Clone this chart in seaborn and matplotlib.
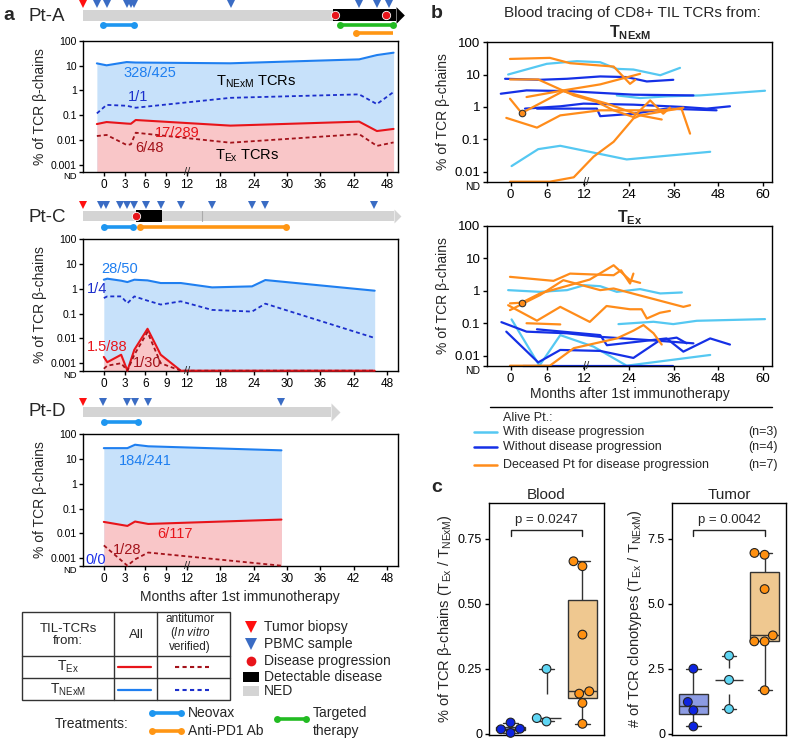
import numpy as np
import pandas as pd
import matplotlib
matplotlib.use("Agg")
import matplotlib.pyplot as plt
from matplotlib.patches import Rectangle
from matplotlib.ticker import NullLocator
import seaborn as sns

# ======================= DATA =======================
ND_A = 10 ** -3.3          # "ND" level, panel a
ND_B = 10 ** -2.31         # "ND" level, panel b

# ---- Pt-A ----
ptA_months = [-1.0, 0.4, 3.3, 3.9, 4.6, 19.8, 43.0, 46.2, 49.2]
ptA_nexm_all = [12.2, 10.2, 13.8, 13.5, 13.2, 12.3, 17.7, 26.4, 32.9]
ptA_nexm_anti = [0.118, 0.26, 0.24, 0.22, 0.20, 0.50, 0.69, 0.28, 0.86]
ptA_ex_all = [0.044, 0.053, 0.046, 0.045, 0.064, 0.038, 0.055, 0.023, 0.028]
ptA_ex_anti = [0.0145, 0.016, 0.0063, 0.0067, 0.0197, 0.0078, 0.0173, 0.0058, 0.008]
ptA_pbmc = [-1.05, 0.48, 3.4, 3.9, 4.3, 20.0, 42.9, 46.2, 48.4]
ptA_biopsy = [-3.07]
ptA_progression = [38.6, 47.9]
ptA_ned = (-3.0, 38.25)
ptA_disease = (38.25, 49.6)
ptA_neovax = (-0.1, 4.35)
ptA_targeted = (39.6, 49.1)
ptA_antipd1 = (42.5, 49.1)

# ---- Pt-C ----
ptC_months = [0, 0.5, 2.5, 3.4, 4.4, 6.3, 8.2, 11.1, 16.5, 23.7, 26.1, 45.8]
ptC_nexm_all = [2.3, 2.53, 2.1, 1.85, 2.3, 2.16, 1.69, 1.69, 1.13, 1.24, 2.23, 0.83]
ptC_nexm_anti = [0.42, 0.49, 0.49, 0.26, 0.49, 0.33, 0.23, 0.31, 0.14, 0.12, 0.25, 0.0104]
ptC_ex_all = [0.0018, 0.0011, 0.0022, ND_A, 0.0035, 0.0244, 0.0022, ND_A, ND_A, ND_A, ND_A, ND_A]
ptC_ex_anti = [0.0006, 0.0008, 0.001, ND_A, 0.0022, 0.018, 0.001, ND_A, ND_A, ND_A, ND_A, ND_A]
ptC_pbmc = [-0.34, 0.38, 2.3, 3.27, 4.37, 6.15, 8.2, 11.1, 16.5, 23.7, 26.1, 45.6]
ptC_biopsy = [-3.07]
ptC_progression = [4.7]
ptC_ned = (-3.0, 49.2)
ptC_disease = (4.7, 8.4)
ptC_neovax = (0.0, 4.2)
ptC_antipd1 = (5.15, 29.9)

# ---- Pt-D ----
ptD_months = [0, 3.4, 4.5, 6.4, 29]
ptD_nexm_all = [27, 27, 37, 32, 22]
ptD_ex_all = [0.029, 0.020, 0.030, 0.024, 0.036]
ptD_ex_anti = [0.0033, ND_A, 0.0009, 0.0017, ND_A]
ptD_pbmc = [-0.1, 3.4, 4.47, 6.4, 29]
ptD_biopsy = [-3.0]
ptD_ned = (-3.0, 38.0)
ptD_neovax = (0.0, 4.95)

A_TICKS = [0, 3, 6, 9, 12, 18, 24, 30, 36, 42, 48]
A_YTICKS = [ND_A, 0.001, 0.01, 0.1, 1, 10, 100]
A_YLABELS = ["ND", "0.001", "0.01", "0.1", "1", "10", "100"]

# ---- panel b (group, months, % of TCR beta chains) ----
b_nexm_lines = [
    ("with", [-0.4, 5.9, 10.8, 16.3, 20.75, 25.2, 32.4, 37.7], [10.1, 21.6, 26.1, 24.2, 15.1, 14.4, 9.6, 16.2]),
    ("with", [20.75, 27.0, 34.1, 43.1, 60.5], [2.28, 1.89, 2.13, 2.28, 3.18]),
    ("with", [0.16, 4.5, 8.1, 23.4, 45.8], [0.0149, 0.0497, 0.0631, 0.0239, 0.0412]),
    ("without", [-0.9, 4.8, 9.2, 16.3, 23.4, 28.8, 35.9], [7.45, 6.93, 7.45, 8.8, 8.4, 6.16, 6.93]),
    ("without", [-1.6, 2.6, 9.2, 25.2, 41.3], [2.57, 3.26, 3.1, 2.4, 2.28]),
    ("without", [2.35, 8.1, 11.9, 25.2, 38.6, 44.9, 51.1], [0.89, 1.05, 1.27, 1.18, 1.0, 0.89, 1.05]),
    ("without", [4.3, 15.4, 16.3, 25.2, 34.1, 47.5], [0.89, 0.89, 0.52, 0.62, 0.89, 0.79]),
    ("deceased", [-0.1, 6.4, 9.7, 19.9, 24.3, 25.7], [30.6, 33.0, 22.6, 17.8, 5.2, 6.9]),
    ("deceased", [-0.1, 4.5, 10.3, 15.4, 19.9, 25.2, 29.7, 33.2, 35.0], [7.1, 7.1, 2.28, 1.43, 0.79, 0.49, 1.6, 0.62, 0.95]),
    ("deceased", [2.6, 8.6, 16.3, 27.0], [2.03, 3.26, 5.0, 10.6]),
    ("deceased", [-0.1, 1.8, 8.6, 18.1, 27.0, 32.8], [1.8, 0.65, 3.1, 1.27, 0.55, 0.41]),
    ("deceased", [-0.7, 4.3, 8.1, 16.3, 32.3, 38.1, 40.4], [0.46, 0.23, 0.55, 0.79, 0.79, 0.89, 0.15]),
    ("deceased", [-0.1, 6.4, 10.3, 14.5, 19.9, 25.2, 27.0, 38.6], [ND_B, ND_B, 0.0067, 0.029, 0.084, 0.44, 0.55, 0.95]),
]
b_nexm_dot = (1.8, 0.65)

b_ex_lines = [
    ("with", [-0.4, 4.8, 9.2, 12, 16.3, 20.75, 27, 32.4, 38.2], [1.05, 0.93, 1.05, 1.49, 1.39, 0.93, 1.13, 0.83, 0.89]),
    ("with", [21.2, 30.6, 35.9, 42.2, 60.5], [0.094, 0.111, 0.094, 0.119, 0.134]),
    ("with", [0.16, 4.7, 8.1, 14.5, 23.4, 45.8], [0.131, ND_B, 0.043, 0.019, ND_B, 0.0105]),
    ("without", [-1.5, 2.6, 9.2, 16.3, 29.7, 41.3], [0.108, 0.055, 0.049, 0.038, 0.030, 0.024]),
    ("without", [-0.7, 4.5, 8.1, 16.3, 25.2, 32.3, 36.8, 39.5], [0.055, 0.0062, 0.015, 0.014, 0.0085, 0.030, 0.036, 0.024]),
    ("without", [4.3, 16.3, 18.1, 34.1, 38.6, 45.8, 51.1], [0.065, 0.043, 0.021, 0.034, 0.0133, 0.034, 0.022]),
    ("without", [2.1, 35.9], [ND_B, ND_B]),
    ("deceased", [-0.1, 7.0, 9.7, 19.9, 21.9, 24.3, 25.2], [2.7, 2.03, 3.4, 3.03, 4.3, 1.68, 3.4]),
    ("deceased", [-0.1, 4.8, 8.6, 16.3, 19.9, 38.6, 40.4], [0.254, 0.74, 2.13, 1.05, 1.18, 0.32, 0.36]),
    ("deceased", [-0.1, 1.8, 4.8, 13.5, 19.9, 24.3, 27.0], [0.41, 0.43, 0.83, 2.23, 6.16, 2.13, 1.76]),
    ("deceased", [-0.4, 4.3, 8.1, 13.5, 18.0, 24.3, 27.4, 28.8, 32.3, 35.0], [0.36, 0.12, 0.32, 0.11, 0.34, 0.27, 0.27, 0.14, 0.21, 0.24]),
    ("deceased", [2.6, 8.1], [0.10, 0.092]),
    ("deceased", [-0.1, 6.4, 10.3, 12.7, 20.75, 25.2, 27.9, 30.6, 32.8], [ND_B, ND_B, 0.017, 0.021, 0.034, 0.059, 0.088, 0.049, 0.022]),
]
b_ex_dot = (1.8, 0.43)

B_TICKS = [0, 6, 12, 24, 36, 48, 60]
B_YTICKS = [ND_B, 0.01, 0.1, 1, 10, 100]
B_YLABELS = ["ND", "0.01", "0.1", "1", "10", "100"]

# ---- panel c ----
GROUPS = ["without", "with", "deceased"]
blood_without = [0.043, 0.003, 0.017, 0.019]
blood_with = [0.047, 0.060, 0.249]
blood_deceased = [0.663, 0.644, 0.381, 0.154, 0.163, 0.118, 0.038]
tumor_without = [2.5, 1.22, 0.9, 0.28]
tumor_with = [3.0, 2.07, 0.95]
tumor_deceased = [6.88, 6.95, 5.56, 3.78, 3.55, 3.55, 1.67]
p_blood = "p = 0.0247"
p_tumor = "p = 0.0042"

# ======================= STYLE =======================
sns.set_theme(style="ticks")
plt.rcParams["font.family"] = ["Liberation Sans", "DejaVu Sans"]
plt.rcParams["mathtext.fontset"] = "custom"
plt.rcParams["mathtext.rm"] = "Liberation Sans"
plt.rcParams["mathtext.it"] = "Liberation Sans:italic"
plt.rcParams["mathtext.bf"] = "Liberation Sans:bold"
plt.rcParams["axes.linewidth"] = 1.0
plt.rcParams["axes.edgecolor"] = "black"
plt.rcParams["xtick.color"] = "black"
plt.rcParams["ytick.color"] = "black"

BLUE = "#1f7ff0"
DBLUE = "#1c2fcc"
RED = "#e8141a"
DRED = "#a3121a"
FILL_BLUE = "#c7e1fa"
FILL_RED = "#f9c6c8"
GRAY = "#d4d4d4"
NEO = "#1e96f0"
ORANGE = "#ff9614"
GREEN = "#22bb22"
TRI_RED = "#ff1010"
TRI_BLUE = "#3a6cc4"

LB = "#55c8f2"
DB = "#1530e6"
OR = "#ff8c1a"
B_PAL = {"with": LB, "without": DB, "deceased": OR}
BOX_FACE = {"without": "#7d92f2", "with": "#a8e6f8", "deceased": "#ffcb80"}
PT_COL = {"without": "#0d24e0", "with": "#5fd6f4", "deceased": "#ff9010"}

W, H = 790, 744
fig = plt.figure(figsize=(W / 100, H / 100), dpi=100)


def px_axes(l, t, r, b):
    return fig.add_axes([l / W, 1 - b / H, (r - l) / W, (b - t) / H])


def fwd_a(m):
    m = np.asarray(m, dtype=float)
    return np.where(m <= 12, m, 12 + (m - 12) * 0.8)


def inv_a(t):
    t = np.asarray(t, dtype=float)
    return np.where(t <= 12, t, 12 + (t - 12) / 0.8)


def fwd_b(m):
    m = np.asarray(m, dtype=float)
    return np.where(m <= 12, m, 12 + (m - 12) * 0.608)


def inv_b(t):
    t = np.asarray(t, dtype=float)
    return np.where(t <= 12, t, 12 + (t - 12) / 0.608)


def shrink_nd(ax, size):
    lab = ax.get_yticklabels()[0]
    lab.set_fontsize(size)
    lab.set_verticalalignment("top")


# ======================= PANEL a =======================
def patient_plot(ax, months, nexm_all, nexm_anti, ex_all, ex_anti):
    ax.set_xscale("function", functions=(fwd_a, inv_a))
    ax.set_yscale("log")
    ax.fill_between(months, ND_A, nexm_all, color=FILL_BLUE, lw=0, zorder=1)
    ax.fill_between(months, ND_A, ex_all, color=FILL_RED, lw=0, zorder=1.1)
    specs = [(nexm_all, BLUE, "-", 1.5), (nexm_anti, DBLUE, (0, (2.2, 1.6)), 1.3),
             (ex_all, RED, "-", 1.5), (ex_anti, DRED, (0, (2.2, 1.6)), 1.3)]
    for vals, col, ls, lw in specs:
        if vals is None:
            continue
        sns.lineplot(x=months, y=vals, ax=ax, color=col, linestyle=ls, lw=lw,
                     errorbar=None, clip_on=False, zorder=3)
    ax.set_xlim(-3, 50)
    ax.set_ylim(ND_A, 100)
    ax.set_xticks(A_TICKS)
    ax.set_xticklabels([str(t) for t in A_TICKS])
    ax.set_yticks(A_YTICKS)
    ax.set_yticklabels(A_YLABELS)
    ax.xaxis.set_minor_locator(NullLocator())
    ax.yaxis.set_minor_locator(NullLocator())
    ax.tick_params(axis="x", labelsize=8.5, length=3, width=1, pad=2)
    ax.tick_params(axis="y", labelsize=7.5, length=3, width=1, pad=1.5)
    shrink_nd(ax, 6.8)
    ax.set_xlabel("")
    ax.set_ylabel("% of TCR β-chains", fontsize=10, labelpad=3)
    ax.text(12, ND_A, "//", ha="center", va="center", fontsize=8, clip_on=False, zorder=6)


def timeline(ax, top, bottom, ybar, ytri, ned, biopsy, pbmc, disease=None,
             progression=(), treatments=(), head_ms=11, head_col=GRAY, bar_h=10.5, divider=None):
    ax.set_xscale("function", functions=(fwd_a, inv_a))
    ax.set_xlim(-3, 50)
    ax.set_ylim(bottom, top)
    ax.axis("off")
    ax.barh(ybar, ned[1] - ned[0], left=ned[0], height=bar_h, color=GRAY, lw=0, zorder=1)
    end = ned[1]
    if disease is not None:
        ax.barh(ybar, disease[1] - disease[0], left=disease[0], height=bar_h + 1.5,
                color="black", lw=0, zorder=2)
        end = max(end, disease[1])
    ax.plot([end], [ybar], marker=[(0, 1), (1, 0), (0, -1)], ms=head_ms, color=head_col,
            mew=0, clip_on=False, zorder=2)
    if divider is not None:
        ax.plot([divider, divider], [ybar - bar_h / 2, ybar + bar_h / 2], color="#aaaaaa", lw=0.8, zorder=2)
    ax.plot(progression, [ybar] * len(progression), "o", ms=6, color=RED, mec="white",
            mew=0.6, ls="none", zorder=4, clip_on=False)
    ax.plot(biopsy, [ytri] * len(biopsy), "v", ms=5.5, color=TRI_RED, mew=0, ls="none", clip_on=False)
    ax.plot(pbmc, [ytri] * len(pbmc), "v", ms=5.5, color=TRI_BLUE, mew=0, ls="none", clip_on=False)
    for (s, e), y, col, ends in treatments:
        ax.plot([s, e], [y, y], color=col, lw=2.6, solid_capstyle="butt", zorder=3, clip_on=False)
        ax.plot(ends, [y] * len(ends), "o", ms=5, color=col, mew=0, zorder=3, clip_on=False)


# Pt-A
axA = px_axes(83, 40.7, 398, 172.3)
patient_plot(axA, ptA_months, ptA_nexm_all, ptA_nexm_anti, ptA_ex_all, ptA_ex_anti)
tlA = px_axes(83, 0, 398, 38)
timeline(tlA, 0, 38, 15.3, 4.3, ptA_ned, ptA_biopsy, ptA_pbmc, disease=ptA_disease,
         progression=ptA_progression, head_ms=12, head_col="black", bar_h=10.5,
         treatments=[(ptA_neovax, 25.3, NEO, list(ptA_neovax)),
                     (ptA_targeted, 25.3, GREEN, list(ptA_targeted)),
                     (ptA_antipd1, 32.7, ORANGE, [ptA_antipd1[0]])])
axA.text(6.6, 5.1, "328/425", color=BLUE, fontsize=10.5, ha="center", va="center")
axA.text(24.5, 2.2, r"T$_{\mathrm{NExM}}$ TCRs", color="black", fontsize=10.5, ha="center", va="center")
axA.text(4.95, 0.52, "1/1", color=DBLUE, fontsize=10.5, ha="center", va="center")
axA.text(10.6, 0.02, "17/289", color=RED, fontsize=10.5, ha="center", va="center")
axA.text(6.6, 0.0049, "6/48", color=DRED, fontsize=10.5, ha="center", va="center")
axA.text(22.8, 0.0023, r"T$_{\mathrm{Ex}}$ TCRs", color="black", fontsize=10.5, ha="center", va="center")

# Pt-C
axC = px_axes(83, 239, 398, 370.7)
patient_plot(axC, ptC_months, ptC_nexm_all, ptC_nexm_anti, ptC_ex_all, ptC_ex_anti)
tlC = px_axes(83, 198, 398, 236)
timeline(tlC, 198, 236, 216, 205, ptC_ned, ptC_biopsy, ptC_pbmc, disease=ptC_disease,
         progression=ptC_progression, head_ms=10, head_col=GRAY, bar_h=10, divider=14.7,
         treatments=[(ptC_neovax, 226.7, NEO, list(ptC_neovax)),
                     (ptC_antipd1, 226.7, ORANGE, list(ptC_antipd1))])
axC.text(2.3, 6.4, "28/50", color=BLUE, fontsize=10.5, ha="center", va="center")
axC.text(-1.0, 1.0, "1/4", color=DBLUE, fontsize=10.5, ha="center", va="center")
axC.text(0.43, 0.0046, "1.5/88", color=RED, fontsize=10.5, ha="center", va="center")
axC.text(6.3, 0.00104, "1/30", color=DRED, fontsize=10.5, ha="center", va="center")

# Pt-D
axD = px_axes(83, 434, 398, 565.7)
patient_plot(axD, ptD_months, ptD_nexm_all, None, ptD_ex_all, ptD_ex_anti)
tlD = px_axes(83, 396, 398, 432)
timeline(tlD, 396, 432, 411.7, 402.3, ptD_ned, ptD_biopsy, ptD_pbmc, head_ms=13,
         head_col=GRAY, bar_h=10, treatments=[(ptD_neovax, 422.3, NEO, list(ptD_neovax))])
axD.text(6.05, 8.4, "184/241", color=BLUE, fontsize=10.5, ha="center", va="center")
axD.text(10.2, 0.0097, "6/117", color=RED, fontsize=10.5, ha="center", va="center")
axD.text(3.3, 0.0022, "1/28", color=DRED, fontsize=10.5, ha="center", va="center")
axD.text(-1.15, 0.00088, "0/0", color="#1c2fe8", fontsize=10.5, ha="center", va="center")


# ======================= PANEL b =======================
def b_plot(ax, lines, dot):
    rows = []
    for pid, (grp, ms, vs) in enumerate(lines):
        for mm, vv in zip(ms, vs):
            rows.append({"pid": pid, "group": grp, "month": mm, "pct": vv})
    df = pd.DataFrame(rows)
    ax.set_xscale("function", functions=(fwd_b, inv_b))
    ax.set_yscale("log")
    sns.lineplot(data=df, x="month", y="pct", hue="group", units="pid", estimator=None,
                 palette=B_PAL, hue_order=["with", "without", "deceased"], lw=1.6,
                 legend=False, sort=False, ax=ax, clip_on=False)
    sns.scatterplot(x=[dot[0]], y=[dot[1]], ax=ax, color=OR, edgecolor="#333333",
                    linewidth=0.8, s=22, zorder=5, legend=False)
    ax.set_xlim(-3.8, 62.3)
    ax.set_ylim(ND_B, 100)
    ax.set_xticks(B_TICKS)
    ax.set_xticklabels([str(t) for t in B_TICKS])
    ax.set_yticks(B_YTICKS)
    ax.set_yticklabels(B_YLABELS)
    ax.xaxis.set_minor_locator(NullLocator())
    ax.yaxis.set_minor_locator(NullLocator())
    ax.tick_params(axis="both", labelsize=9.5, length=3, width=1, pad=2)
    shrink_nd(ax, 7.5)
    ax.set_xlabel("")
    ax.set_ylabel("% of TCR β-chains", fontsize=10, labelpad=3)
    ax.text(12.6, ND_B, "//", ha="center", va="center", fontsize=8, clip_on=False, zorder=6)


axB1 = px_axes(487.3, 42.3, 771.7, 181.7)
b_plot(axB1, b_nexm_lines, b_nexm_dot)
axB2 = px_axes(487.3, 226, 771.7, 365.7)
b_plot(axB2, b_ex_lines, b_ex_dot)
axB2.set_xlabel("Months after 1st immunotherapy", fontsize=10, labelpad=2)


# ======================= PANEL c =======================
def c_plot(ax, without, with_, deceased, ylim, yticks, ylabels, title, ylabel, ptext, br_lo, br_hi, p_y):
    df = pd.DataFrame({
        "group": ["without"] * len(without) + ["with"] * len(with_) + ["deceased"] * len(deceased),
        "val": list(without) + list(with_) + list(deceased),
    })
    sns.boxplot(data=df, x="group", y="val", hue="group", order=GROUPS, hue_order=GROUPS,
                palette=BOX_FACE, whis=(0, 100), width=0.8, linecolor="#333333", linewidth=1.0,
                showfliers=False, legend=False, dodge=False, ax=ax)
    for p in ax.patches:
        verts = p.get_path().vertices
        if abs(verts[:, 0].mean() - 1) < 0.3:
            p.set_facecolor("none")
            p.set_edgecolor("none")
    sns.swarmplot(data=df, x="group", y="val", hue="group", order=GROUPS, hue_order=GROUPS,
                  palette=PT_COL, size=6.3, edgecolor="#222222", linewidth=0.8, legend=False,
                  ax=ax, zorder=5)
    for c in ax.collections:
        c.set_clip_on(False)
    ax.plot([0, 0, 2, 2], [br_lo, br_hi, br_hi, br_lo], color="#222222", lw=1)
    ax.text(1, p_y, ptext, ha="center", va="center", fontsize=9.5)
    ax.set_xlim(-0.6, 2.6)
    ax.set_ylim(*ylim)
    ax.set_xticks([])
    ax.set_xlabel("")
    ax.set_yticks(yticks)
    ax.set_yticklabels(ylabels)
    ax.tick_params(axis="y", labelsize=9, length=3, width=1, pad=2)
    ax.set_title(title, fontsize=11, pad=3)
    ax.set_ylabel(ylabel, fontsize=10.5, labelpad=3)


axC1 = px_axes(489, 503, 604, 735)
c_plot(axC1, blood_without, blood_with, blood_deceased, (-0.005, 0.887), [0, 0.25, 0.5, 0.75],
       ["0", "0.25", "0.50", "0.75"], "Blood",
       r"% of TCR β-chains (T$_{\mathrm{Ex}}$ / T$_{\mathrm{NExM}}$)", p_blood, 0.759, 0.785, 0.823)
axC2 = px_axes(672, 503, 786, 735)
c_plot(axC2, tumor_without, tumor_with, tumor_deceased, (-0.05, 8.87), [0, 2.5, 5.0, 7.5],
       ["0", "2.5", "5.0", "7.5"], "Tumor",
       r"# of TCR clonotypes (T$_{\mathrm{Ex}}$ / T$_{\mathrm{NExM}}$)", p_tumor, 7.59, 7.85, 8.23)

# ======================= OVERLAY (labels / legends) =======================
ov = fig.add_axes([0, 0, 1, 1])
ov.set_xlim(0, W)
ov.set_ylim(H, 0)
ov.axis("off")

ov.text(3, 15, "a", fontsize=14, fontweight="bold", va="center")
ov.text(431, 13, "b", fontsize=14, fontweight="bold", va="center")
ov.text(431, 488, "c", fontsize=14, fontweight="bold", va="center")
ov.text(28, 16.7, "Pt-A", fontsize=13.5, va="center")
ov.text(28, 217, "Pt-C", fontsize=13.5, va="center")
ov.text(28, 412, "Pt-D", fontsize=13.5, va="center")
ov.text(240, 597, "Months after 1st immunotherapy", fontsize=10, ha="center", va="center")

ov.text(632, 13, "Blood tracing of CD8+ TIL TCRs from:", fontsize=11, ha="center", va="center")
ov.text(630, 33, r"$\mathbf{T_{NExM}}$", fontsize=11.5, ha="center", va="center")
ov.text(630, 218, r"$\mathbf{T_{Ex}}$", fontsize=11.5, ha="center", va="center")

# panel b legend
ov.plot([490, 772], [407, 407], color="black", lw=1)
ov.text(503, 418, "Alive Pt.:", fontsize=9, va="center")
for y, col, lab, n in [(432, LB, "With disease progression", "(n=3)"),
                       (447, DB, "Without disease progression", "(n=4)"),
                       (465, OR, "Deceased Pt for disease progression", "(n=7)")]:
    ov.plot([474, 497], [y, y], color=col, lw=1.8)
    ov.text(503, y, lab, fontsize=9, va="center")
    ov.text(778, y, n, fontsize=9, va="center", ha="right")

# panel a legend table
ov.add_patch(Rectangle((22, 612), 208, 88, fill=False, lw=1, ec="#333333"))
ov.plot([114.3, 114.3], [612, 700], color="#333333", lw=1)
ov.plot([157, 157], [612, 700], color="#333333", lw=1)
ov.plot([22, 230], [655.7, 655.7], color="#333333", lw=1)
ov.plot([22, 230], [678.3, 678.3], color="#333333", lw=1)
ov.text(68, 635, "TIL-TCRs\nfrom:", fontsize=9.5, ha="center", va="center", linespacing=1.0)
ov.text(136, 635, "All", fontsize=9.5, ha="center", va="center")
ov.text(190, 619.5, "antitumor", fontsize=8.5, ha="center", va="center")
ov.text(190, 633.3, r"($\mathit{In\ vitro}$", fontsize=8.5, ha="center", va="center")
ov.text(190, 646.7, "verified)", fontsize=8.5, ha="center", va="center")
ov.text(68, 667, r"T$_{\mathrm{Ex}}$", fontsize=10, ha="center", va="center")
ov.text(68, 689.5, r"T$_{\mathrm{NExM}}$", fontsize=10, ha="center", va="center")
ov.plot([118, 151], [666.7, 666.7], color=RED, lw=1.6)
ov.plot([175, 209], [666.7, 666.7], color=DRED, lw=1.5, ls=(0, (2, 1.6)))
ov.plot([118, 151], [690, 690], color=BLUE, lw=1.6)
ov.plot([175, 209], [690, 690], color=DBLUE, lw=1.5, ls=(0, (2, 1.6)))

ov.plot([251], [626.7], "v", ms=8, color=TRI_RED, mew=0)
ov.plot([251], [644.3], "v", ms=8, color=TRI_BLUE, mew=0)
ov.plot([251], [661], "o", ms=7, color=RED, mew=0)
ov.add_patch(Rectangle((243, 672), 16, 10, color="black", lw=0))
ov.add_patch(Rectangle((243, 686), 16, 10, color=GRAY, lw=0))
for y, lab in [(626.7, "Tumor biopsy"), (644.3, "PBMC sample"), (661, "Disease progression"),
               (676.7, "Detectable disease"), (691, "NED")]:
    ov.text(264, y, lab, fontsize=10, va="center")

ov.text(55, 724, "Treatments:", fontsize=10, va="center")
for y, col, lab in [(713.3, NEO, "Neovax"), (731, ORANGE, "Anti-PD1 Ab")]:
    ov.plot([152, 181], [y, y], color=col, lw=2.6)
    ov.plot([152, 181], [y, y], "o", ms=5, color=col, mew=0)
    ov.text(188, y, lab, fontsize=10, va="center")
ov.plot([277, 306], [719.3, 719.3], color=GREEN, lw=2.6)
ov.plot([277, 306], [719.3, 719.3], "o", ms=5, color=GREEN, mew=0)
ov.text(313, 713.3, "Targeted", fontsize=10, va="center")
ov.text(313, 731, "therapy", fontsize=10, va="center")

fig.savefig("out.png", dpi=100)
